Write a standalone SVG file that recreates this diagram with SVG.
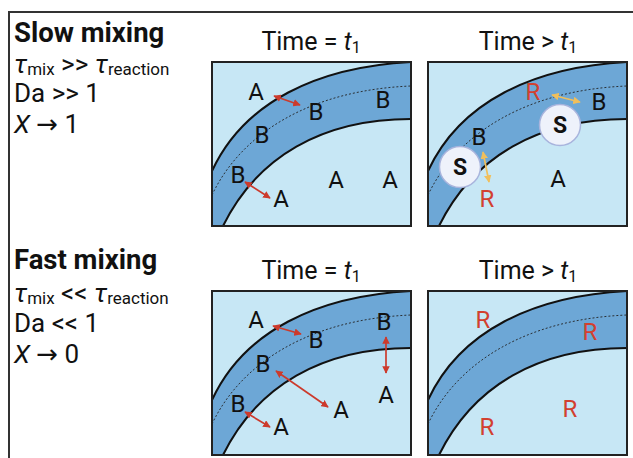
<svg xmlns="http://www.w3.org/2000/svg" xmlns:xlink="http://www.w3.org/1999/xlink" width="633" height="458" viewBox="0 0 633 458">
<style>
text{font-family:Roboto,"DejaVu Sans",sans-serif;fill:#111}
.hd{font-size:27.5px;font-weight:bold}
.ln{font-size:26px}
.sub{font-size:17px}
.it{font-style:italic}
.ttl{font-size:25px;text-anchor:middle}
.lt{font-size:24px;text-anchor:middle}
.red{fill:#d2402f}
.s{font-size:23px;font-weight:bold;text-anchor:middle}
.ra{stroke:#cc3a2c;stroke-width:1.7;fill:none;marker-start:url(#mr);marker-end:url(#mr)}
.ya{stroke:#f0bf5c;stroke-width:1.7;fill:none;marker-start:url(#my);marker-end:url(#my)}
.circ{fill:#eef2fb;stroke:#a8b4dd;stroke-width:1.5}
</style>
<defs>
<marker id="mr" viewBox="0 0 10 10" refX="9" refY="5" markerWidth="7.5" markerHeight="7.5" markerUnits="userSpaceOnUse" orient="auto-start-reverse"><path d="M0,0 L10,5 L0,10 z" fill="#cc3a2c"/></marker>
<marker id="my" viewBox="0 0 10 10" refX="9" refY="5" markerWidth="7.5" markerHeight="7.5" markerUnits="userSpaceOnUse" orient="auto-start-reverse"><path d="M0,0 L10,5 L0,10 z" fill="#f0bf5c"/></marker>
<g id="panel">
<rect x="0" y="0" width="199" height="164" fill="#c7e7f5"/>
<path d="M0,109 C32,40 105,5 199,0 L199,57 C110,57 45,95 11,164 L0,164 Z" fill="#6da7d6"/>
<path d="M0,109 C32,40 105,5 199,0" fill="none" stroke="#111" stroke-width="2"/>
<path d="M199,57 C110,57 45,95 11,164" fill="none" stroke="#111" stroke-width="2"/>
<path d="M0,133 C30,70 100,28 199,24" fill="none" stroke="#222" stroke-width="0.9" stroke-dasharray="2,2"/>
<rect x="0" y="0" width="199" height="164" fill="none" stroke="#222" stroke-width="2"/>
</g>
</defs>
<g id="frame" fill="none" stroke="#333" stroke-width="2">
<path d="M9,458 L9,12 L633,12"/>
</g>
<g id="slow-label">
<text class="hd" x="14" y="42">Slow mixing</text>
<text class="ln" x="14" y="73"><tspan class="it">τ</tspan><tspan class="sub" dy="2">mix</tspan><tspan dy="-2"> &gt;&gt; </tspan><tspan class="it">τ</tspan><tspan class="sub" dy="2">reaction</tspan></text>
<text class="ln" x="14" y="102">Da &gt;&gt; 1</text>
<text class="ln" x="14" y="133"><tspan class="it">X</tspan> → 1</text>
</g>
<g id="fast-label">
<text class="hd" x="14" y="269">Fast mixing</text>
<text class="ln" x="14" y="302"><tspan class="it">τ</tspan><tspan class="sub" dy="2">mix</tspan><tspan dy="-2"> &lt;&lt; </tspan><tspan class="it">τ</tspan><tspan class="sub" dy="2">reaction</tspan></text>
<text class="ln" x="14" y="332">Da &lt;&lt; 1</text>
<text class="ln" x="14" y="363"><tspan class="it">X</tspan> → 0</text>
</g>
<g id="slow-t1">
<text class="ttl" x="311" y="50">Time = <tspan class="it">t</tspan><tspan font-size="16" dy="3">1</tspan></text>
<use href="#panel" x="212" y="62"/>
<text class="lt" x="256" y="100">A</text>
<text class="lt" x="316" y="120">B</text>
<text class="lt" x="383" y="108">B</text>
<text class="lt" x="262" y="143">B</text>
<text class="lt" x="238" y="183">B</text>
<text class="lt" x="281" y="207">A</text>
<text class="lt" x="336" y="188">A</text>
<text class="lt" x="390" y="188">A</text>
</g>
<g id="slow-later">
<text class="ttl" x="528" y="50">Time &gt; <tspan class="it">t</tspan><tspan font-size="16" dy="3">1</tspan></text>
<use href="#panel" x="428" y="62"/>
<text class="lt red" x="533" y="100">R</text>
<text class="lt" x="599" y="110">B</text>
<text class="lt" x="479" y="145">B</text>
<text class="lt red" x="487" y="207">R</text>
<text class="lt" x="558" y="187">A</text>
<circle class="circ" cx="560" cy="125" r="20.5"/>
<text class="s" x="560" y="133">S</text>
<circle class="circ" cx="460" cy="167" r="20.5"/>
<text class="s" x="460" y="175">S</text>
</g>
<g id="fast-t1">
<text class="ttl" x="311" y="279">Time = <tspan class="it">t</tspan><tspan font-size="16" dy="3">1</tspan></text>
<use href="#panel" x="212" y="291"/>
<text class="lt" x="256" y="328">A</text>
<text class="lt" x="316" y="348">B</text>
<text class="lt" x="384" y="330">B</text>
<text class="lt" x="386" y="403">A</text>
<text class="lt" x="263" y="372">B</text>
<text class="lt" x="341" y="418">A</text>
<text class="lt" x="238" y="412">B</text>
<text class="lt" x="281" y="435">A</text>
</g>
<g id="fast-later">
<text class="ttl" x="528" y="279">Time &gt; <tspan class="it">t</tspan><tspan font-size="16" dy="3">1</tspan></text>
<use href="#panel" x="428" y="291"/>
<text class="lt red" x="483" y="328">R</text>
<text class="lt red" x="590" y="340">R</text>
<text class="lt red" x="570" y="417">R</text>
<text class="lt red" x="487" y="435">R</text>
</g>
<g id="connectors">
<line class="ra" x1="274" y1="96" x2="300" y2="105"/>
<line class="ra" x1="245" y1="182" x2="270" y2="198"/>
<line class="ya" x1="552" y1="95" x2="580" y2="102"/>
<line class="ya" x1="483" y1="152" x2="489" y2="182"/>
<line class="ra" x1="273" y1="326" x2="301" y2="334"/>
<line class="ra" x1="386" y1="337" x2="386" y2="373"/>
<line class="ra" x1="276" y1="371" x2="328" y2="407"/>
<line class="ra" x1="245" y1="412" x2="270" y2="427"/>
</g>
</svg>
